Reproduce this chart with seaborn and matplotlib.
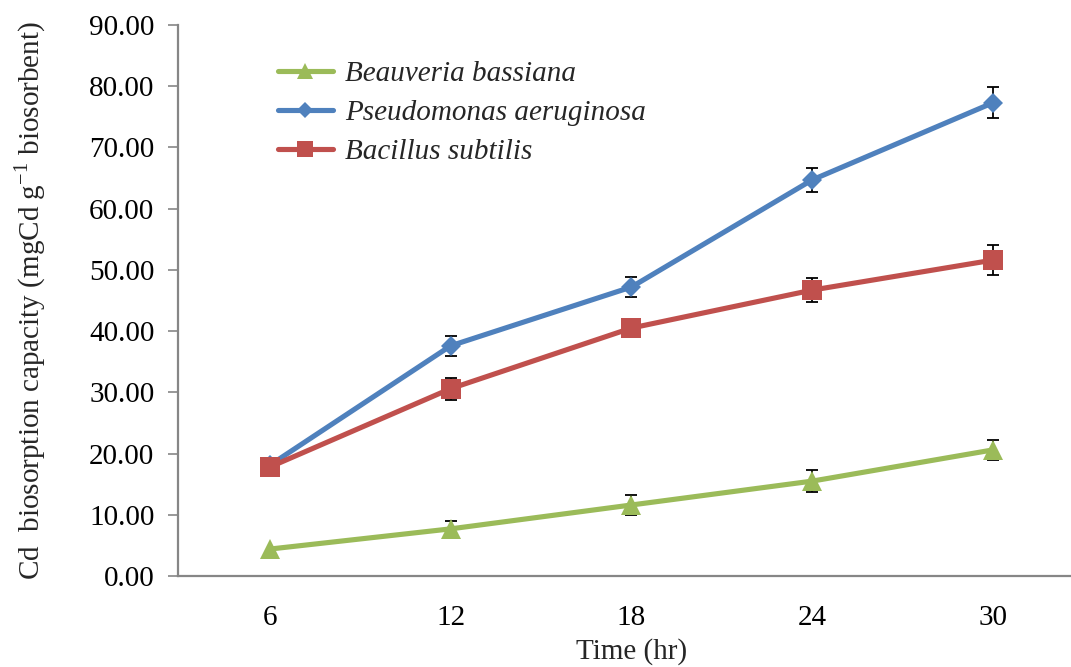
import matplotlib
matplotlib.use("Agg")
import matplotlib.pyplot as plt
import seaborn as sns
import pandas as pd
import numpy as np

# ---- data ----
time_hr = [6, 12, 18, 24, 30]
series_names = ["Beauveria bassiana", "Pseudomonas aeruginosa", "Bacillus subtilis"]
beauveria = [4.4, 7.7, 11.6, 15.5, 20.6]
beauveria_err = [0.0, 1.3, 1.6, 1.8, 1.6]
pseudomonas = [18.1, 37.6, 47.2, 64.7, 77.3]
pseudomonas_err = [0.0, 1.6, 1.7, 2.0, 2.5]
bacillus = [17.8, 30.6, 40.5, 46.7, 51.6]
bacillus_err = [0.0, 1.8, 1.5, 2.0, 2.5]
y_ticks = [0, 10, 20, 30, 40, 50, 60, 70, 80, 90]

sns.set_theme(style="white")
plt.rcParams['font.family'] = ['Liberation Serif', 'DejaVu Serif']
plt.rcParams['mathtext.fontset'] = 'custom'
plt.rcParams['mathtext.rm'] = 'Liberation Serif'

FS = 21

fig = plt.figure(figsize=(10.71, 6.67), dpi=100)
ax = fig.add_axes([178/1071, 1 - 576/667, 1 - 178/1071, (576 - 25)/667])

pos = list(range(len(time_hr)))
styles = [
    (series_names[0], beauveria, beauveria_err, "#9BBB59", "^", 15),
    (series_names[1], pseudomonas, pseudomonas_err, "#4F81BD", "D", 10.5),
    (series_names[2], bacillus, bacillus_err, "#C0504D", "s", 14.5),
]

for name, vals, errs, col, mk, ms in styles:
    df = pd.DataFrame({"pos": pos, "val": vals})
    sns.lineplot(data=df, x="pos", y="val", ax=ax, color=col, marker=mk,
                 markersize=ms, markeredgewidth=0, linewidth=3.7, label=name,
                 zorder=3)
    idx = [i for i, e in enumerate(errs) if e > 0]
    ax.errorbar([pos[i] for i in idx], [vals[i] for i in idx],
                yerr=[errs[i] for i in idx], fmt="none", ecolor="black",
                elinewidth=1.3, capsize=4.5, capthick=1.3, zorder=2.5)

ax.set_xlim(-0.508, (1071 - 270) / 180.75)
ax.set_ylim(0, 90)
ax.set_xticks(pos)
ax.set_xticklabels([str(t) for t in time_hr])
ax.set_yticks(y_ticks)
ax.set_yticklabels([f"{v:.2f}" for v in y_ticks])

ax.tick_params(axis='x', length=0, pad=21, labelsize=FS, colors='black')
ax.tick_params(axis='y', length=7, width=1.2, pad=10, labelsize=FS,
               color='#868686', labelcolor='black', direction='out', left=True)

for s in ['top', 'right']:
    ax.spines[s].set_visible(False)
for s in ['left', 'bottom']:
    ax.spines[s].set_color('#868686')
    ax.spines[s].set_linewidth(1.6)

ax.set_xlabel("Time (hr)", fontsize=FS)
ax.xaxis.set_label_coords((632 - 178) / 893, (576 - 638) / 551)
ax.set_ylabel(r"Cd  biosorption capacity (mgCd g$^{\mathregular{-1}}$ biosorbent)", fontsize=FS)
ax.yaxis.set_label_coords((48 - 178) / 893, 0.5)

leg = ax.legend(loc='upper left', bbox_to_anchor=(88 / 893, (576 - 49) / 551),
                frameon=False, prop={'style': 'italic', 'size': FS},
                handlelength=1.9, handletextpad=0.4, labelspacing=0.43,
                borderaxespad=0, markerscale=0.75)

fig.savefig("out.png", dpi=100)
